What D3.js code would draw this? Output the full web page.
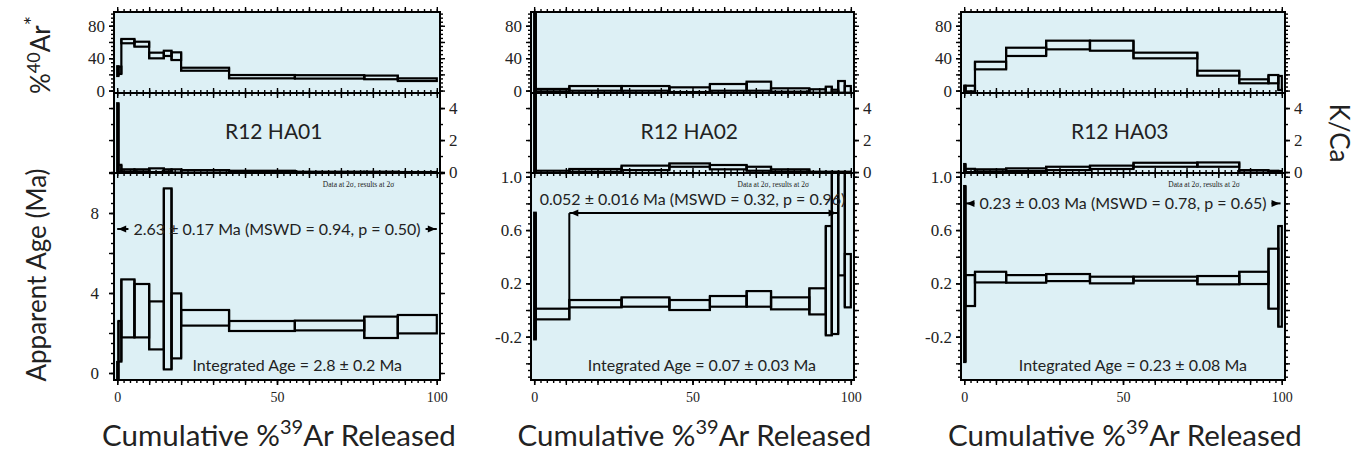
<!DOCTYPE html>
<html><head><meta charset="utf-8">
<script src="https://cdn.jsdelivr.net/npm/d3@7"></script>
<style>body{margin:0;background:#fff;} svg{display:block}</style>
</head><body><svg id="c" width="1360" height="458"></svg>
<script>
// ---------------- data ----------------
const sampleNames = ["R12 HA01", "R12 HA02", "R12 HA03"];

// cumulative %39Ar step boundaries
const steps1 = [0, 0.4, 1.3, 5.4, 10, 14.6, 17, 20, 35, 55.6, 77.3, 87.8, 100];
const ageLow1  = [-0.3, 0.57, 1.78, 1.78, 1.18, 0.18, 0.73, 2.37, 2.10, 2.13, 1.75, 1.98];
const ageHigh1 = [0.55, 2.60, 4.68, 4.45, 3.58, 9.23, 3.98, 3.15, 2.60, 2.62, 2.82, 2.90];
const arLow1   = [18, 20.5, 58.4, 54.2, 39.8, 42.7, 37.7, 24.5, 15.1, 14.8, 14.0, 11.8];
const arHigh1  = [30, 29.5, 63.7, 60.3, 46.8, 49.2, 47.2, 28.2, 19.2, 19.0, 18.5, 15.1];
const kcaLow1  = [0, 0.0, 0.02, 0.02, 0.0, 0.02, -0.03, -0.04, -0.04, -0.08, -0.06, -0.06];
const kcaHigh1 = [4.3, 0.45, 0.17, 0.17, 0.23, 0.17, 0.17, 0.12, 0.08, 0.02, 0.02, 0.0];

const steps2 = [0, 0.5, 11.1, 27.6, 42.7, 55.5, 67.1, 74.8, 86.9, 92.1, 94.0, 96.0, 98.1, 100];
const ageLow2  = [-0.22, -0.07, 0.02, 0.025, 0.0, 0.025, 0.025, 0.005, -0.033, -0.19, -0.18, 0.26, 0.02];
const ageHigh2 = [0.73, 0.01, 0.075, 0.095, 0.075, 0.105, 0.142, 0.095, 0.163, 0.63, 1.2, 1.2, 0.42];
const arLow2   = [-3, -1, -0.2, -0.2, -1.8, -0.2, -0.2, -1.4, -2.6, -2.6, -2, -2.6, -2.6];
const arHigh2  = [97, 2, 5.6, 5.6, 4, 8.1, 11, 2.8, 1.6, 4.8, 1, 11.8, 5.6];
const kcaLow2  = [-0.06, -0.08, 0.02, 0.12, 0.33, 0.17, 0.08, 0.02, -0.05, -0.06, -0.06, -0.06, -0.06];
const kcaHigh2 = [5.0, 0.08, 0.19, 0.40, 0.54, 0.44, 0.33, 0.17, 0.02, 0.02, 0.02, 0.02, 0.02];

const steps3 = [0, 0.4, 3.4, 13.2, 25.8, 39.6, 53.3, 73.4, 86.6, 95.8, 98.9, 100];
const ageLow3  = [-0.39, 0.03, 0.207, 0.205, 0.217, 0.20, 0.22, 0.193, 0.195, 0.01, -0.125];
const ageHigh3 = [0.93, 0.262, 0.287, 0.262, 0.27, 0.25, 0.25, 0.255, 0.287, 0.46, 0.63];
const arLow3   = [-1, -1, 26.2, 42.7, 50.9, 49.2, 39.8, 18.4, 9, 9, 0.7];
const arHigh3  = [6, 6, 35.6, 52.9, 61.6, 61.6, 46.8, 24.5, 13.9, 19.2, 18];
const kcaLow3  = [0, 0, 0.02, 0.06, 0.12, 0.19, 0.33, 0.33, -0.04, -0.05, -0.05];
const kcaHigh3 = [0.5, 0.2, 0.17, 0.23, 0.33, 0.40, 0.58, 0.60, 0.12, 0.08, 0.06];

const plateauStart = [0, 11.1, 0.4];
const plateauEnd   = [100, 95.8, 99.6];
const plateauText = ["2.63 ± 0.17 Ma (MSWD = 0.94, p = 0.50)",
                     "0.052 ± 0.016 Ma (MSWD = 0.32, p = 0.96)",
                     "0.23 ± 0.03 Ma (MSWD = 0.78, p = 0.65)"];
const integratedText = ["Integrated Age = 2.8 ± 0.2 Ma",
                        "Integrated Age = 0.07 ± 0.03 Ma",
                        "Integrated Age = 0.23 ± 0.08 Ma"];
const noteText = "Data at 2σ, results at 2σ";

const ageTickLabels = [[0, 4, 8], [-0.2, 0.2, 0.6, 1.0], [-0.2, 0.2, 0.6, 1.0]];
const arTickLabels = [0, 40, 80];
const kcaTickLabels = [0, 2, 4];
const xTickLabels = [0, 50, 100];

// ---------------- layout ----------------
const BG = "#ddf0f5";
const SANS = "Lato, 'Open Sans', sans-serif";
const SERIF = "'Liberation Serif', 'DejaVu Serif', serif";
const panelX = [[114, 440], [531, 854], [961, 1285]];
const yAr = [12, 93], yKca = [93, 173], yAge = [173, 380];
const ageDomains = [[-0.35, 10], [-0.525, 1.028], [-0.525, 1.028]];
const ageMinorStep = [0.5, 0.05, 0.05];
const ageMajorStep = [2, 0.2, 0.2];
const plateauLineAge = [7.2, 0.727, 0.80];
const plateauTextAbove = [false, true, false];

const datasets = [
  {steps: steps1, ageLo: ageLow1, ageHi: ageHigh1, arLo: arLow1, arHi: arHigh1, kLo: kcaLow1, kHi: kcaHigh1},
  {steps: steps2, ageLo: ageLow2, ageHi: ageHigh2, arLo: arLow2, arHi: arHigh2, kLo: kcaLow2, kHi: kcaHigh2},
  {steps: steps3, ageLo: ageLow3, ageHi: ageHigh3, arLo: arLow3, arHi: arHigh3, kLo: kcaLow3, kHi: kcaHigh3}
];

const svg = d3.select("#c");
const defs = svg.append("defs");
const rng = (a, b, s) => { const out = []; for (let v = a; v <= b + 1e-9; v += s) out.push(+v.toFixed(4)); return out; };

function tickAxis(g, gen, transform, values, size, fmt) {
  const ax = g.append("g").attr("transform", transform)
    .call(gen.tickValues(values).tickSize(size).tickSizeOuter(0).tickFormat(fmt || (() => "")));
  ax.select(".domain").remove();
  ax.selectAll("line").attr("stroke", "#000").attr("stroke-width", 1.4);
  return ax;
}

function arrowHead(g, xt, y, dir) {
  const L = 8, Wd = 3.5;
  g.append("path").attr("d", `M${xt},${y} L${xt - dir * L},${y - Wd} L${xt - dir * L},${y + Wd} Z`).attr("fill", "#000");
}

datasets.forEach((d, i) => {
  const [x0, x1] = panelX[i];
  const x = d3.scaleLinear().domain([-1, 101]).range([x0, x1]);
  const yA = d3.scaleLinear().domain([-3, 97]).range([yAr[1], yAr[0]]);
  const yK = d3.scaleLinear().domain([-0.06, 4.94]).range([yKca[1], yKca[0]]);
  const yG = d3.scaleLinear().domain(ageDomains[i]).range([yAge[1], yAge[0]]);
  const g = svg.append("g");

  const subs = [
    {key: "ar", y: yA, lo: d.arLo, hi: d.arHi, top: yAr[0], bot: yAr[1], minor: rng(0, 95, 5), major: rng(0, 80, 20)},
    {key: "kca", y: yK, lo: d.kLo, hi: d.kHi, top: yKca[0], bot: yKca[1], minor: rng(0, 4, 1), major: rng(0, 4, 2)},
    {key: "age", y: yG, lo: d.ageLo, hi: d.ageHi, top: yAge[0], bot: yAge[1],
     minor: rng(Math.ceil(ageDomains[i][0] / ageMinorStep[i]) * ageMinorStep[i], ageDomains[i][1], ageMinorStep[i]),
     major: rng(Math.ceil(ageDomains[i][0] / ageMajorStep[i]) * ageMajorStep[i], ageDomains[i][1], ageMajorStep[i])}
  ];

  const xMinor = rng(0, 100, 2), xMajor = rng(0, 100, 10);
  const nSteps = d.steps.length - 1;

  subs.forEach(s => {
    const id = `clip-${i}-${s.key}`;
    defs.append("clipPath").attr("id", id).append("rect")
      .attr("x", x0).attr("y", s.top).attr("width", x1 - x0).attr("height", s.bot - s.top);
    g.append("rect").attr("x", x0).attr("y", s.top).attr("width", x1 - x0).attr("height", s.bot - s.top).attr("fill", BG);
    const mg = g.append("g").attr("clip-path", `url(#${id})`);
    mg.selectAll("rect").data(d3.range(nSteps)).join("rect")
      .attr("x", j => x(d.steps[j]))
      .attr("width", j => x(d.steps[j + 1]) - x(d.steps[j]))
      .attr("y", j => s.y(s.hi[j]))
      .attr("height", j => s.y(s.lo[j]) - s.y(s.hi[j]))
      .attr("fill", "none").attr("stroke", "#000").attr("stroke-width", 2.2);
    // connectors between adjacent steps (staircase)
    mg.selectAll("line").data(d3.range(nSteps - 1)).join("line")
      .attr("x1", j => x(d.steps[j + 1])).attr("x2", j => x(d.steps[j + 1]))
      .attr("y1", j => s.y(Math.min(s.lo[j], s.lo[j + 1])))
      .attr("y2", j => s.y(Math.max(s.hi[j], s.hi[j + 1])))
      .attr("stroke", "#000").attr("stroke-width", 2.2);
  });

  // sample name
  g.append("text").attr("x", x0 + 0.49 * (x1 - x0)).attr("y", 139).attr("text-anchor", "middle")
    .attr("font-family", SANS).attr("font-size", 21).attr("fill", "#222").text(sampleNames[i]);

  // note
  g.append("text").attr("x", x0 + 0.75 * (x1 - x0)).attr("y", 187).attr("text-anchor", "middle")
    .attr("font-family", SERIF).attr("font-size", 7.5).attr("fill", "#222").text(noteText);

  // integrated age
  g.append("text").attr("x", x1 - 38).attr("y", 371).attr("text-anchor", "end")
    .attr("font-family", SANS).attr("font-size", 16).attr("fill", "#222").text(integratedText[i]);

  // plateau
  const pg = g.append("g");
  const ly = yG(plateauLineAge[i]);
  const px0 = x(plateauStart[i]), px1 = x(plateauEnd[i]);
  const cx = (x0 + x1) / 2;
  if (plateauTextAbove[i]) {
    pg.append("line").attr("x1", px0).attr("x2", px1).attr("y1", ly).attr("y2", ly).attr("stroke", "#000").attr("stroke-width", 2);
    const j0 = d.steps.indexOf(plateauStart[i]);
    pg.append("line").attr("x1", px0).attr("x2", px0).attr("y1", ly).attr("y2", yG(d.ageHi[j0])).attr("stroke", "#000").attr("stroke-width", 2);
    arrowHead(pg, px0 + 1, ly, -1);
    arrowHead(pg, px1 - 1, ly, 1);
    pg.append("text").attr("x", cx).attr("y", ly - 8).attr("text-anchor", "middle")
      .attr("font-family", SANS).attr("font-size", 16).attr("fill", "#222").text(plateauText[i]);
  } else {
    const t = pg.append("text").attr("x", cx).attr("y", ly + 5.5).attr("text-anchor", "middle")
      .attr("font-family", SANS).attr("font-size", 16).attr("fill", "#222").text(plateauText[i]);
    const tw = t.node().getComputedTextLength();
    const ta = cx - tw / 2 - 5, tb = cx + tw / 2 + 5;
    pg.append("line").attr("x1", px0).attr("x2", Math.max(px0, ta)).attr("y1", ly).attr("y2", ly).attr("stroke", "#000").attr("stroke-width", 2);
    pg.append("line").attr("x1", Math.min(px1, tb)).attr("x2", px1).attr("y1", ly).attr("y2", ly).attr("stroke", "#000").attr("stroke-width", 2);
    arrowHead(pg, px0 + 1, ly, -1);
    arrowHead(pg, px1 - 1, ly, 1);
  }

  // borders and ticks
  subs.forEach(s => {
    g.append("rect").attr("x", x0).attr("y", s.top).attr("width", x1 - x0).attr("height", s.bot - s.top)
      .attr("fill", "none").attr("stroke", "#000").attr("stroke-width", 2);
    tickAxis(g, d3.axisTop(x), `translate(0,${s.top})`, xMinor, 3);
    tickAxis(g, d3.axisTop(x), `translate(0,${s.top})`, xMajor, 5);
    tickAxis(g, d3.axisBottom(x), `translate(0,${s.bot})`, xMinor, 3);
    tickAxis(g, d3.axisBottom(x), `translate(0,${s.bot})`, xMajor, 5);
    tickAxis(g, d3.axisLeft(s.y), `translate(${x0},0)`, s.minor, 3);
    tickAxis(g, d3.axisLeft(s.y), `translate(${x0},0)`, s.major, 5);
    tickAxis(g, d3.axisRight(s.y), `translate(${x1},0)`, s.minor, 3);
    tickAxis(g, d3.axisRight(s.y), `translate(${x1},0)`, s.major, 5);
  });

  // tick labels
  const styleLab = (ax, size) => ax.selectAll("text").attr("font-family", SERIF).attr("font-size", size).attr("fill", "#222");
  styleLab(tickAxis(g, d3.axisLeft(yA).tickPadding(4), `translate(${x0},0)`, arTickLabels, 5, v => String(v)), 17);
  styleLab(tickAxis(g, d3.axisRight(yK).tickPadding(4), `translate(${x1},0)`, kcaTickLabels, 5, v => String(v)), 17);
  styleLab(tickAxis(g, d3.axisLeft(yG).tickPadding(i === 0 ? 10 : 4), `translate(${x0},0)`, ageTickLabels[i], 5,
    v => i === 0 ? String(v) : v.toFixed(1)), 17);
  styleLab(tickAxis(g, d3.axisBottom(x).tickPadding(7), `translate(0,${yAge[1]})`, xTickLabels, 5, v => String(v)), 14);

  // x title
  const xt = svg.append("text").attr("x", (x0 + x1) / 2 + 2).attr("y", 446).attr("text-anchor", "middle")
    .attr("font-family", SANS).attr("font-size", 29.5).attr("fill", "#222");
  xt.append("tspan").text("Cumulative %");
  xt.append("tspan").attr("dy", -12).attr("font-size", 20).text("39");
  xt.append("tspan").attr("dy", 12).text("Ar Released");
});

// y titles
const t1 = svg.append("text").attr("transform", "translate(50,55) rotate(-90)").attr("text-anchor", "middle")
  .attr("font-family", SANS).attr("font-size", 26).attr("fill", "#222");
t1.append("tspan").text("%");
t1.append("tspan").attr("dy", -10).attr("font-size", 18).text("40");
t1.append("tspan").attr("dy", 10).text("Ar");
t1.append("tspan").attr("dy", -10).attr("font-size", 22).text("*");

svg.append("text").attr("transform", "translate(46,275) rotate(-90)").attr("text-anchor", "middle")
  .attr("font-family", SANS).attr("font-size", 26).attr("fill", "#222").text("Apparent Age (Ma)");

svg.append("text").attr("transform", "translate(1330,133) rotate(90)").attr("text-anchor", "middle")
  .attr("font-family", SANS).attr("font-size", 26).attr("fill", "#222").text("K/Ca");
</script></body></html>
